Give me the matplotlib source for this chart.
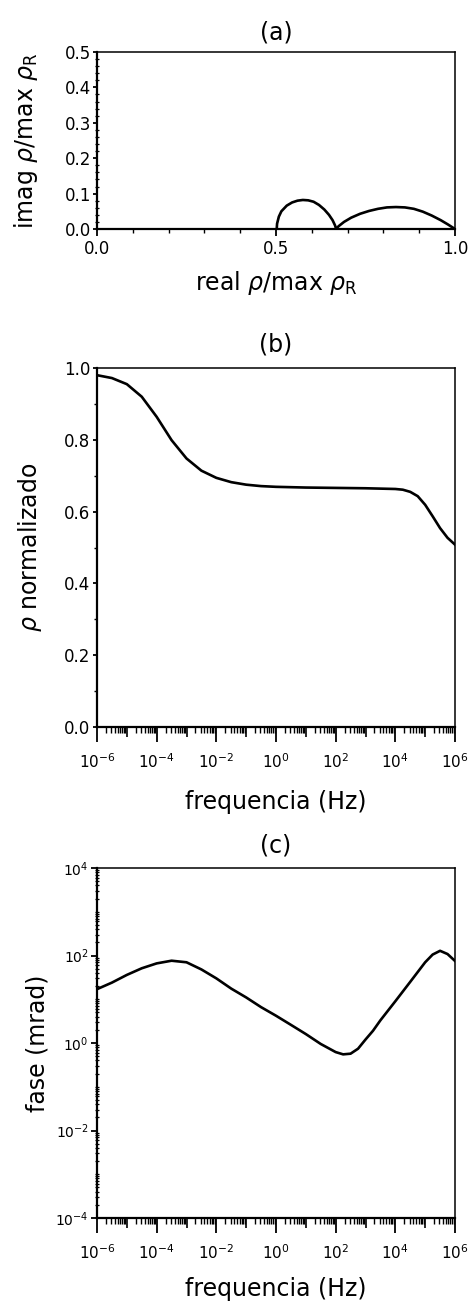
import matplotlib
matplotlib.use("Agg")
import matplotlib.pyplot as plt
from matplotlib.ticker import FixedLocator, LogLocator, NullFormatter, MultipleLocator

plt.rcParams["font.family"] = ["DejaVu Sans"]
plt.rcParams["mathtext.fontset"] = "dejavusans"

# --------- DATA ---------
# (a) Cole-Cole diagram, two arcs
re_a = [0.502, 0.503, 0.508, 0.515, 0.530, 0.545, 0.560, 0.575, 0.590, 0.605,
        0.620, 0.635, 0.648, 0.658, 0.665, 0.668,
        0.675, 0.690, 0.710, 0.735, 0.760, 0.785, 0.810, 0.835, 0.860, 0.885,
        0.910, 0.935, 0.960, 0.980, 1.000]
im_a = [0.000, 0.015, 0.035, 0.050, 0.066, 0.075, 0.080, 0.082, 0.081, 0.077,
        0.068, 0.055, 0.040, 0.025, 0.010, 0.000,
        0.008, 0.020, 0.032, 0.043, 0.051, 0.057, 0.061, 0.062, 0.061, 0.057,
        0.049, 0.038, 0.025, 0.013, 0.000]

# (b) normalized resistivity vs frequency
freq_b = [1e-6, 3.16e-6, 1e-5, 3.16e-5, 1e-4, 3.16e-4, 1e-3, 3.16e-3, 1e-2,
          3.16e-2, 1e-1, 3.16e-1, 1e0, 1e1, 1e2, 1e3, 1e4, 1.78e4, 3.16e4,
          5.62e4, 1e5, 1.78e5, 3.16e5, 5.62e5, 1e6]
rho_b = [0.980, 0.972, 0.955, 0.920, 0.864, 0.799, 0.748, 0.714, 0.694,
         0.682, 0.675, 0.671, 0.669, 0.667, 0.666, 0.665, 0.663, 0.661, 0.655,
         0.643, 0.619, 0.587, 0.554, 0.527, 0.508]

# (c) phase (mrad) vs frequency
freq_c = [1e-6, 3.16e-6, 1e-5, 3.16e-5, 1e-4, 3.16e-4, 1e-3, 3.16e-3, 1e-2,
          3.16e-2, 1e-1, 3.16e-1, 1e0, 3.16e0, 1e1, 3.16e1, 1e2, 1.78e2,
          3.16e2, 5.62e2, 1e3, 1.78e3, 3.16e3, 1e4, 3.16e4, 1e5, 1.78e5,
          3.16e5, 5.62e5, 1e6]
phase_c = [17.0, 24.0, 36.0, 51.0, 66.0, 76.0, 70.0, 48.0, 30.0, 17.5, 11.0,
           6.6, 4.2, 2.6, 1.6, 0.95, 0.62, 0.55, 0.57, 0.74, 1.2, 1.9, 3.3,
           9.0, 25.0, 70.0, 105.0, 128.0, 108.0, 75.0]

log_ticks = [1e-6, 1e-4, 1e-2, 1e0, 1e2, 1e4, 1e6]
log_ticklabels = [r"$10^{-6}$", r"$10^{-4}$", r"$10^{-2}$", r"$10^{0}$",
                  r"$10^{2}$", r"$10^{4}$", r"$10^{6}$"]
odd_decades = [1e-5, 1e-3, 1e-1, 1e1, 1e3, 1e5]
phase_ticks = [1e-4, 1e-2, 1e0, 1e2, 1e4]
phase_ticklabels = [r"$10^{-4}$", r"$10^{-2}$", r"$10^{0}$", r"$10^{2}$", r"$10^{4}$"]
# -------------------------------------------------

W, H = 470, 1312
LABEL_FS = 17
TICK_FS = 12
LOG_TICK_FS = 11
TITLE_FS = 17
LW = 1.9


def style_box(ax):
    for side in ["left", "bottom"]:
        ax.spines[side].set_linewidth(1.6)
    for side in ["top", "right"]:
        ax.spines[side].set_linewidth(1.1)


def log_xaxis(ax):
    ax.set_xscale("log")
    ax.set_xlim(1e-6, 1e6)
    ax.xaxis.set_major_locator(FixedLocator(log_ticks))
    ax.set_xticklabels(log_ticklabels)
    ax.xaxis.set_minor_locator(LogLocator(base=10, subs=range(2, 10), numticks=100))
    ax.xaxis.set_minor_formatter(NullFormatter())
    ax.tick_params(axis="x", which="major", direction="out", length=11, width=1.3,
                   labelsize=LOG_TICK_FS, pad=7)
    ax.tick_params(axis="x", which="minor", direction="out", length=4.5, width=1.0)
    # medium-length ticks on the unlabeled decades
    sec = ax.secondary_xaxis("bottom")
    sec.set_xticks(odd_decades)
    sec.tick_params(direction="out", length=7, width=1.2, labelbottom=False)
    sec.spines["bottom"].set_visible(False)


fig = plt.figure(figsize=(W / 100, H / 100), dpi=100)

# ---------------- (a) ----------------
ax_a = fig.add_axes([97 / W, 1 - 229 / H, 358 / W, 177 / H])
ax_a.plot(re_a, im_a, color="black", lw=LW)
ax_a.set_xlim(0, 1)
ax_a.set_ylim(0, 0.5)
ax_a.set_xticks([0.0, 0.5, 1.0])
ax_a.set_xticklabels(["0.0", "0.5", "1.0"])
ax_a.xaxis.set_minor_locator(MultipleLocator(0.1))
ax_a.set_yticks([0.0, 0.1, 0.2, 0.3, 0.4, 0.5])
ax_a.set_yticklabels(["0.0", "0.1", "0.2", "0.3", "0.4", "0.5"])
ax_a.yaxis.set_minor_locator(MultipleLocator(0.02))
ax_a.tick_params(axis="x", which="major", direction="out", length=5, width=1.3,
                 labelsize=TICK_FS, pad=3)
ax_a.tick_params(axis="x", which="minor", direction="out", length=3, width=1.0)
ax_a.tick_params(axis="y", which="major", direction="out", length=3, width=1.3,
                 labelsize=TICK_FS, pad=1)
ax_a.tick_params(axis="y", which="minor", direction="inout", length=2.5, width=0.9)
ax_a.set_xlabel(r"real $\rho$/max $\rho_\mathrm{R}$", fontsize=LABEL_FS, labelpad=8)
ax_a.set_ylabel(r"imag $\rho$/max $\rho_\mathrm{R}$", fontsize=LABEL_FS, labelpad=18)
ax_a.set_title("(a)", fontsize=TITLE_FS, pad=9)
style_box(ax_a)

# ---------------- (b) ----------------
ax_b = fig.add_axes([97 / W, 1 - 727 / H, 358 / W, 359 / H])
ax_b.plot(freq_b, rho_b, color="black", lw=LW)
log_xaxis(ax_b)
ax_b.set_ylim(0, 1.0)
ax_b.set_yticks([0.0, 0.2, 0.4, 0.6, 0.8, 1.0])
ax_b.set_yticklabels(["0.0", "0.2", "0.4", "0.6", "0.8", "1.0"])
ax_b.yaxis.set_minor_locator(MultipleLocator(0.1))
ax_b.tick_params(axis="y", which="major", direction="out", length=3, width=1.3,
                 labelsize=TICK_FS, pad=2)
ax_b.tick_params(axis="y", which="minor", direction="out", length=2, width=1.0)
ax_b.set_xlabel("frequencia (Hz)", fontsize=LABEL_FS, labelpad=14)
ax_b.set_ylabel(r"$\rho$ normalizado", fontsize=LABEL_FS, labelpad=14)
ax_b.set_title("(b)", fontsize=TITLE_FS, pad=12)
style_box(ax_b)

# ---------------- (c) ----------------
ax_c = fig.add_axes([97 / W, 1 - 1218 / H, 358 / W, 350 / H])
ax_c.plot(freq_c, phase_c, color="black", lw=LW)
log_xaxis(ax_c)
ax_c.set_yscale("log")
ax_c.set_ylim(1e-4, 1e4)
ax_c.yaxis.set_major_locator(FixedLocator(phase_ticks))
ax_c.set_yticklabels(phase_ticklabels)
ax_c.yaxis.set_minor_locator(LogLocator(base=10, subs=range(1, 10), numticks=100))
ax_c.yaxis.set_minor_formatter(NullFormatter())
ax_c.tick_params(axis="y", which="major", direction="out", length=4, width=1.3,
                 labelsize=LOG_TICK_FS - 1, pad=2)
ax_c.tick_params(axis="y", which="minor", direction="inout", length=2.5, width=0.9)
ax_c.set_xlabel("frequencia (Hz)", fontsize=LABEL_FS, labelpad=11)
ax_c.set_ylabel("fase (mrad)", fontsize=LABEL_FS, labelpad=4)
ax_c.set_title("(c)", fontsize=TITLE_FS, pad=11)
style_box(ax_c)

fig.savefig("out.png", dpi=100)
